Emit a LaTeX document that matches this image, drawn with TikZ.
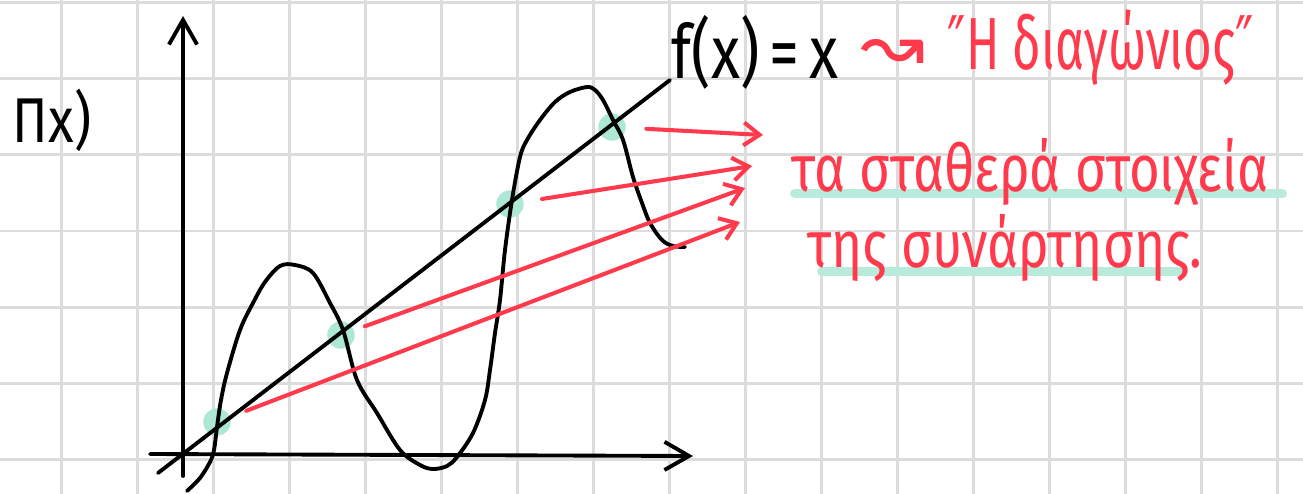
\documentclass[tikz,border=0pt]{standalone}
\usepackage{fontspec}
\setmainfont{Fira Sans}
\newfontfamily\symfont{DejaVu Sans}
\usetikzlibrary{arrows.meta}
\definecolor{marker}{HTML}{FF3A4C}
\definecolor{mint}{HTML}{ADE7D6}
\definecolor{paper}{HTML}{DCDCDC}

\begin{document}
\begin{tikzpicture}[x=0.01cm,y=-0.01cm,gridline/.style={draw=paper,line width=0.85pt},pen/.style={draw=black,line width=1.1pt,line cap=round,line join=round},axis/.style={pen,-{Straight Barb[length=7pt,width=8pt]}},fixpt/.style={circle,fill=mint,minimum size=7.8pt,inner sep=0pt},note/.style={draw=marker,line width=1.15pt,line cap=round,-{Straight Barb[length=4.5pt,width=6.5pt]}},hl/.style={draw=mint!85,line width=2.8pt,line cap=round},redtext/.style={text=marker,inner sep=0pt},blacktext/.style={text=black,inner sep=0pt}]
\useasboundingbox (0,0) rectangle (1303,494);
\fill[white] (0,0) rectangle (1303,494);
\foreach \gx in {0,...,16} \draw[gridline] (61.7+76*\gx,0) -- (61.7+76*\gx,494);
\foreach \gy in {0,...,6} \draw[gridline] (0,2.7+76.1*\gy) -- (1303,2.7+76.1*\gy);
\draw[hl] (795,193.5) -- (1282,193.5);
\draw[hl] (822,271.5) -- (1182,271.5);
\node[fixpt] (p1) at (217,422) {};
\node[fixpt] (p2) at (341,335) {};
\node[fixpt] (p3) at (510,204) {};
\node[fixpt] (p4) at (612,127) {};
\coordinate (ybot) at (183,476);
\coordinate (ytop) at (183,16);
\coordinate (xleft) at (150,454);
\coordinate (xright) at (693,456);
\coordinate (dstart) at (158,473);
\coordinate (dend) at (670,80);
\draw[axis] (ybot) -- (ytop);
\draw[axis] (xleft) -- (xright);
\draw[pen] (dstart) -- (dend);
\draw[pen] plot[smooth,tension=0.55] coordinates {(187,491) (200,478) (210,462) (214,450) (217,427) (221,400) (227,373) (240,330) (253,303) (265,282) (280,266) (295,265) (313,273) (330,303) (343,330) (357,380) (377,413) (400,450) (420,465) (433,469) (447,466) (457,457) (473,433) (485,400) (490,370) (495,333) (500,300) (505,250) (512,200) (520,157) (527,140) (540,120) (555,102) (570,92) (587,87) (595,90) (603,100) (613,120) (623,140) (633,177) (642,203) (650,223) (662,240) (673,246) (685,247)};
\coordinate (a1) at (763,135);
\coordinate (a2) at (752,166);
\coordinate (a3) at (745,188);
\coordinate (a4) at (740,222);
\draw[note,shorten <=0.2cm] (p4) -- (a1);
\draw[note,shorten <=0.18cm] (p3) -- (a2);
\draw[note,shorten <=0.11cm] (p2) -- (a3);
\draw[note,shorten <=0.17cm] (p1) -- (a4);
\node[blacktext,font=\fontsize{15}{18}\selectfont] (pilabel) at (52,120) {\scalebox{1}[1.2]{Πx)}};
\node[blacktext,font=\fontsize{17}{20}\selectfont] (fxlabel) at (755,52) {\scalebox{1}[1.25]{f(x)\,=\,x}};
\node[redtext,font=\symfont\fontsize{22}{26}\selectfont] (wave) at (893,55) {↝};
\node[redtext,font=\fontsize{14}{18}\selectfont] (diaglabel) at (1101,48) {\scalebox{1}[1.5]{{\symfont ″}Η διαγώνιος{\symfont ″}}};
\node[redtext,font=\fontsize{15}{18}\selectfont] (fixedA) at (1030,172) {\scalebox{1}[1.25]{τα σταθερά στοιχεία}};
\node[redtext,font=\fontsize{15}{18}\selectfont] (fixedB) at (1005,248) {\scalebox{1}[1.25]{της συνάρτησης.}};
\end{tikzpicture}
\end{document}
